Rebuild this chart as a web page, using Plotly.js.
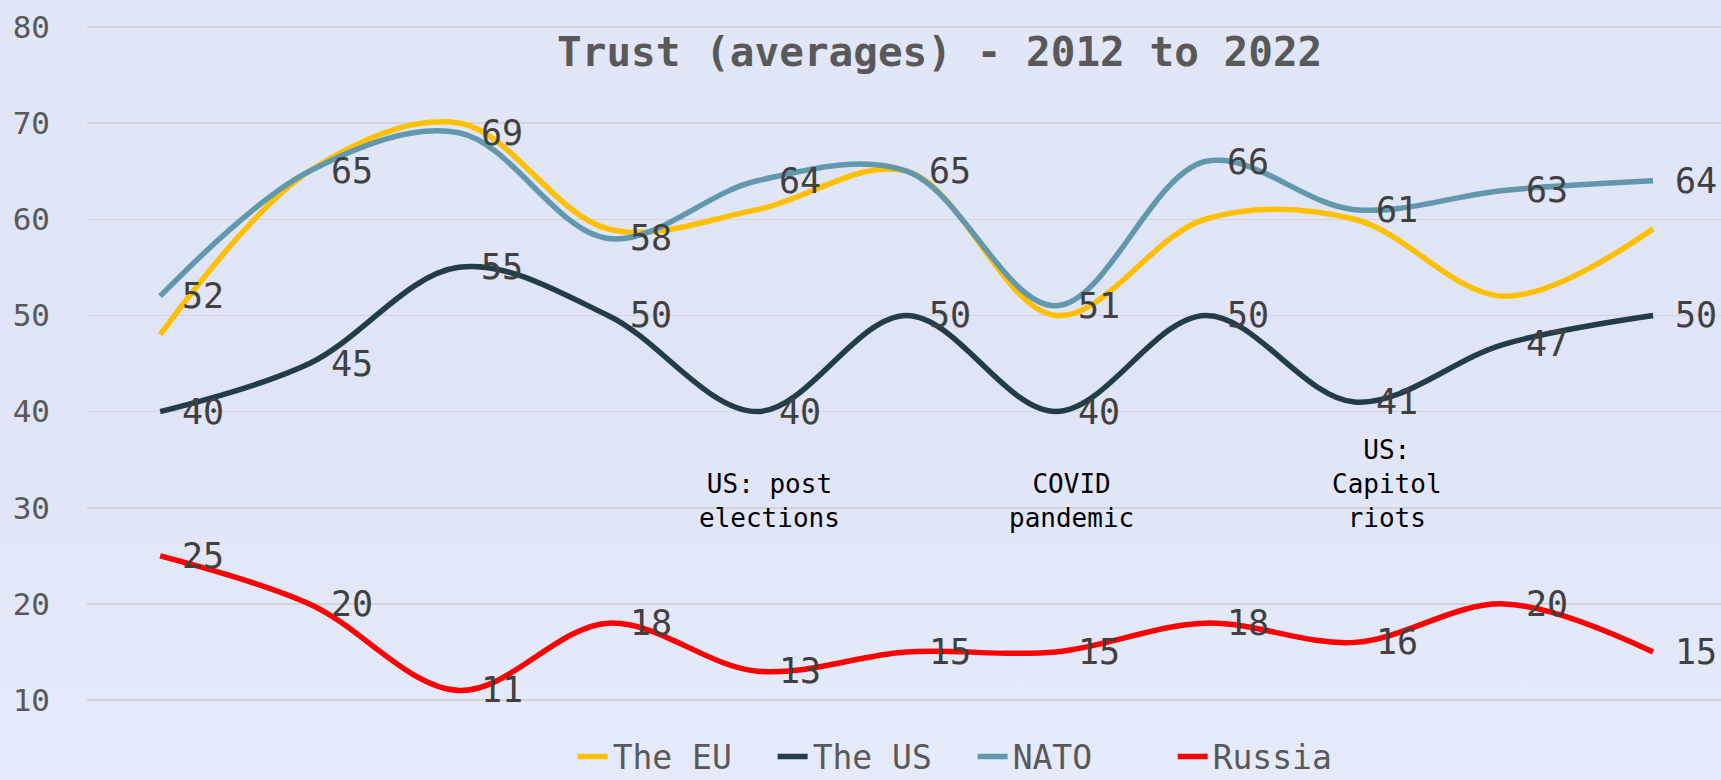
<!DOCTYPE html>
<html>
<head>
<meta charset="utf-8">
<script src="https://cdn.plot.ly/plotly-3.0.1.min.js"></script>
<style>
  html, body { margin: 0; padding: 0; }
  body { width: 1721px; height: 780px; background: linear-gradient(180deg, #e2e7f8 0%, #dfe4f6 45%, #e5ebfa 100%); }
  #chart { width: 1721px; height: 780px; }
</style>
</head>
<body>
<div id="chart"></div>
<script>
// ---- data ----
const periods = ['2012','2013','2014','2015','2016','2017','2018','2019','2020','2021','2022'];
const theEU  = [48, 65, 70, 59, 61, 65, 50, 60, 60, 52, 59];
const theUS  = [40, 45, 55, 50, 40, 50, 40, 50, 41, 47, 50];
const nato   = [52, 65, 69, 58, 64, 65, 51, 66, 61, 63, 64];
const russia = [25, 20, 11, 18, 13, 15, 15, 18, 16, 20, 15];
const seriesNames = ['The EU', 'The US', 'NATO', 'Russia'];
const yTicks = [10, 20, 30, 40, 50, 60, 70, 80];
const events = [
  {idx: 4, text: 'US: post<br>elections'},
  {idx: 6, text: 'COVID<br>pandemic'},
  {idx: 8, text: 'US:<br>Capitol<br>riots'}
];

// ---- styling ----
const FONT = '"DejaVu Sans Mono", "Liberation Mono", monospace';
const colors = ['#FFC000', '#223D48', '#6198AD', '#FF0000'];
const xIdx = periods.map((_, i) => i);
const allSeries = [theEU, theUS, nato, russia];

const traces = allSeries.map((vals, k) => ({
  type: 'scatter',
  mode: 'lines',
  name: seriesNames[k],
  x: xIdx,
  y: vals,
  line: {color: colors[k], width: 5.5, shape: 'spline', smoothing: 1},
  hoverinfo: 'skip'
}));

// data labels (NATO, US, Russia) placed right of each point
const annotations = [];
[theUS, nato, russia].forEach(vals => {
  vals.forEach((v, i) => {
    annotations.push({
      x: i, y: v, xref: 'x', yref: 'y',
      text: String(v), showarrow: false,
      xanchor: 'left', yanchor: 'middle', xshift: 20,
      font: {family: FONT, size: 35, color: '#404040'}
    });
  });
});
// event notes
const evShift = [12, 16, 33];
const evY = [30.7, 30.7, 32.5];
events.forEach((e, k) => {
  annotations.push({
    x: e.idx, y: evY[k], xref: 'x', yref: 'y',
    text: e.text, showarrow: false, xshift: evShift[k],
    xanchor: 'center', yanchor: 'middle', align: 'center',
    font: {family: FONT, size: 26, color: '#000000'}
  });
});

const layout = {
  width: 1721, height: 780,
  margin: {l: 87, r: 0, t: 25, b: 78, pad: 0},
  paper_bgcolor: 'rgba(0,0,0,0)',
  plot_bgcolor: 'rgba(0,0,0,0)',
  title: {
    text: '<b>Trust (averages) - 2012 to 2022</b>',
    font: {family: FONT, size: 41, color: '#595959'},
    x: 0.546, xanchor: 'center', xref: 'container',
    y: 0.934, yanchor: 'middle', yref: 'container'
  },
  xaxis: {
    range: [-0.49, 10.455],
    showgrid: false, zeroline: false, showline: false,
    showticklabels: false, ticks: '', fixedrange: true
  },
  yaxis: {
    range: [9.8, 80.2],
    tickvals: yTicks,
    ticktext: yTicks.map(String),
    showgrid: true, gridcolor: '#d4d4d8', gridwidth: 1.5,
    zeroline: false, showline: false, ticks: '',
    ticklabelstandoff: 36,
    tickfont: {family: FONT, size: 31, color: '#595959'},
    fixedrange: true
  },
  showlegend: true,
  legend: {
    orientation: 'h',
    x: 0.542, xanchor: 'center',
    y: 0.03, yanchor: 'middle', yref: 'container',
    font: {family: FONT, size: 33, color: '#595959'},
    bgcolor: 'rgba(0,0,0,0)',
    entrywidth: 155,
    tracegroupgap: 0
  },
  annotations: annotations
};

Plotly.newPlot('chart', traces, layout, {displayModeBar: false, staticPlot: true});
</script>
</body>
</html>
